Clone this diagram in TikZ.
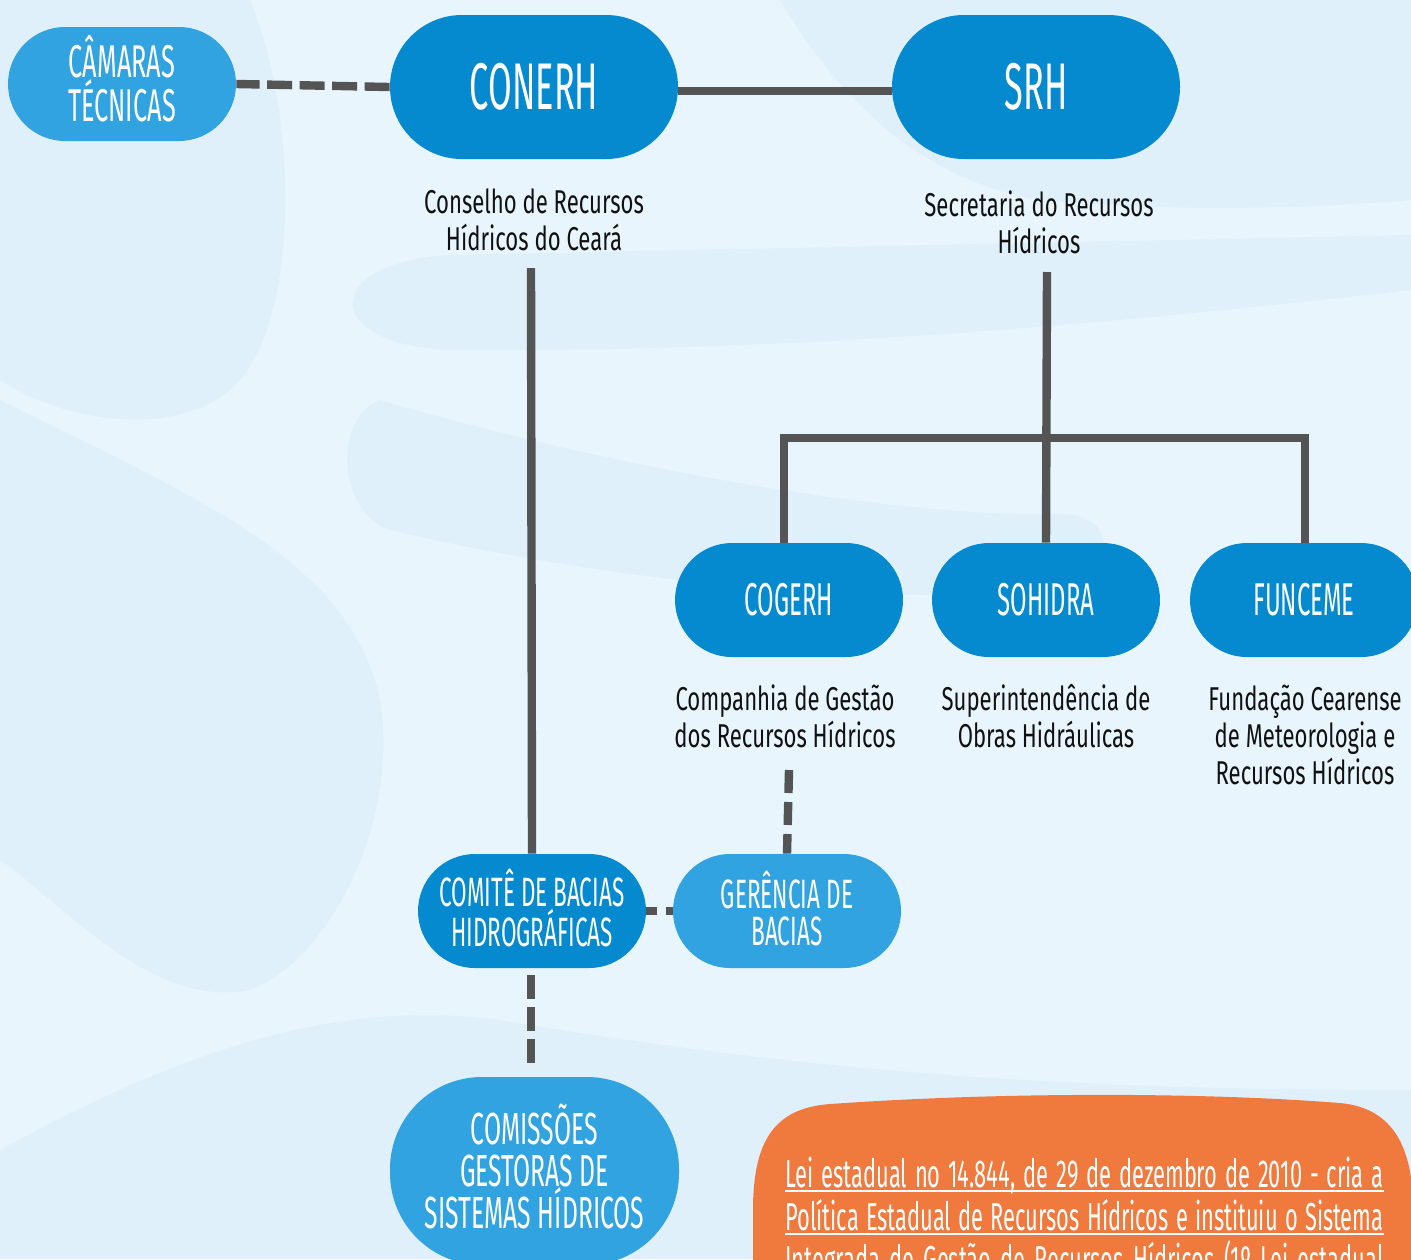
\documentclass[tikz,border=0pt]{standalone}
\usepackage{fontspec}
\setmainfont{Fira Sans}[FakeStretch=0.67]
\newfontfamily\capfont{Fira Sans}[FakeStretch=0.52]
\newfontfamily\capfontw{Fira Sans}[FakeStretch=0.55]
\newfontfamily\ofont{Fira Sans}[FakeStretch=0.56]
\usetikzlibrary{shapes.misc}
\definecolor{bgc}{HTML}{E8F5FD}
\definecolor{blobc}{HTML}{E0F0FB}
\definecolor{dblue}{HTML}{0589CF}
\definecolor{lblue}{HTML}{30A3E0}
\definecolor{lgray}{HTML}{545454}
\definecolor{orng}{HTML}{F07A3D}
\definecolor{txt}{HTML}{111111}
\tikzset{
  pill/.style={rounded rectangle, inner sep=0pt, text=white, align=center},
  smallpill/.style={pill, minimum width=114pt, minimum height=57pt},
  bigpill/.style={pill, minimum width=144pt, minimum height=72pt, fill=dblue,
    font=\capfont\fontsize{33}{34}\selectfont},
  intext/.style={text=white, align=center, inner sep=0pt},
  lbl/.style={text=txt, align=center, inner sep=0pt,
    font=\fontsize{16.5}{18.5}\selectfont},
  conn/.style={draw=lgray, line width=4.2pt},
  dashc/.style={draw=lgray, line width=4.2pt, dash pattern=on 12pt off 4pt},
  otext/.style={anchor=base west, text=white, inner sep=0pt,
    font=\ofont\fontsize{19.5}{21}\selectfont},
  uline/.style={draw=white, line width=1pt}
}
\begin{document}
\begin{tikzpicture}[x=0.5pt,y=-0.5pt]
\useasboundingbox (0,0) rectangle (1411,1259);
\clip (0,0) rectangle (1411,1259);
\fill[bgc] (0,0) rectangle (1411,1259);
% background blobs (soft)
\fill[blobc] (0,0) -- (250,0) .. controls (300,120) and (300,330) .. (230,390)
  .. controls (170,440) and (60,420) .. (0,380) -- cycle;
\fill[blobc] (1411,235) -- (450,255) .. controls (320,262) and (320,345) .. (450,350)
  .. controls (800,352) and (1100,325) .. (1411,290) -- cycle;
\fill[blobc] (0,400) .. controls (200,500) and (350,560) .. (380,700)
  .. controls (400,820) and (330,960) .. (250,990)
  .. controls (150,1010) and (60,900) .. (0,860) -- cycle;
\fill[blobc] (380,400) .. controls (620,470) and (900,518) .. (1060,514)
  .. controls (1125,514) and (1120,585) .. (1030,592)
  .. controls (800,605) and (560,570) .. (390,530)
  .. controls (340,515) and (330,420) .. (380,400) -- cycle;
\fill[blobc] (780,0) .. controls (840,100) and (920,180) .. (1040,200)
  .. controls (1200,215) and (1350,205) .. (1411,200) -- (1411,0) -- cycle;
\fill[blobc] (0,1150) .. controls (200,1040) and (350,1000) .. (500,1020)
  .. controls (800,1070) and (1050,1090) .. (1411,1090)
  -- (1411,1259) -- (0,1259) -- cycle;

% nodes
\node[smallpill, fill=lblue] (cam) at (122,84) {};
\node[intext, font=\capfontw\fontsize{23}{22}\selectfont] (camT) at (122,79) {CÂMARAS\\TÉCNICAS};
\node[bigpill] (conerh) at (534,87) {CONERH};
\node[bigpill] (srh) at (1036,87) {SRH};
\node[lbl] (conerhL) at (534,219.5) {Conselho de Recursos\\Hídricos do Ceará};
\node[lbl] (srhL) at (1039,222.5) {Secretaria do Recursos\\Hídricos};

\node[smallpill, fill=dblue, font=\capfont\fontsize{23}{24}\selectfont] (cog) at (789,600) {COGERH};
\node[smallpill, fill=dblue, font=\capfont\fontsize{23}{24}\selectfont] (soh) at (1046,600) {SOHIDRA};
\node[smallpill, fill=dblue, font=\capfont\fontsize{23}{24}\selectfont] (fun) at (1304,600) {FUNCEME};
\node[lbl] (cogL) at (785,716.5) {Companhia de Gestão\\dos Recursos Hídricos};
\node[lbl] (sohL) at (1046,716.5) {Superintendência de\\Obras Hidráulicas};
\node[lbl] (funL) at (1305,735) {Fundação Cearense\\de Meteorologia e\\Recursos Hídricos};

\node[smallpill, fill=dblue] (comite) at (532,911) {};
\node[intext, font=\capfontw\fontsize{20.5}{18.5}\selectfont] (comiteT) at (532,908) {COMITÊ DE BACIAS\\HIDROGRÁFICAS};
\node[smallpill, fill=lblue] (ger) at (787,911) {};
\node[intext, font=\capfontw\fontsize{20.5}{18.5}\selectfont] (gerT) at (787,908) {GERÊNCIA DE\\BACIAS};
\node[draw=none, fill=lblue, rounded corners=46pt, minimum width=144.5pt, minimum height=94pt,
  inner sep=0pt] (comis) at (534.5,1171) {};
\node[intext, font=\capfontw\fontsize{22.5}{21}\selectfont] (comisT) at (534.5,1166)
  {COMISSÕES\\GESTORAS DE\\SISTEMAS HÍDRICOS};

% free ends
\coordinate (c1) at (531,268);
\coordinate (s1) at (1047,272);
\coordinate (g1) at (789,770);
\coordinate (d1) at (531,975);
\coordinate (d2) at (531,1063);

% connectors
\draw[dashc, dash pattern=on 12.5pt off 3.75pt] (conerh.west) -- (cam.east);
\draw[conn] (conerh.east) ++(0,4) -- ([yshift=-2pt]srh.west);
\draw[conn] (c1) -- (comite.north);
\draw[conn] (s1) -- (soh.north);
\draw[conn] (cog.north -| 784,0) -- (784,438) -- (1305,438) -- (fun.north -| 1305,0);
\draw[dashc, dash pattern=on 11.5pt off 4.5pt] (g1) -- (ger.north);
\draw[dashc, dash pattern=on 5.5pt off 4.5pt] (comite.east) -- (ger.west);
\draw[dashc, dash pattern=on 12pt off 4pt] (d1) -- (d2);

% orange box
\fill[orng] (753,1300) -- (753,1210) .. controls (753,1140) and (775,1108) .. (830,1104)
  .. controls (1000,1092) and (1200,1092) .. (1340,1103)
  .. controls (1395,1108) and (1411,1150) .. (1413,1200) -- (1413,1300) -- cycle;
\node[otext] (o1) at (785,1187) {\makebox[299pt][s]{Lei estadual no 14.844, de 29 de dezembro de 2010 - cria a}};
\node[otext] (o2) at (785,1230) {\makebox[299pt][s]{Política Estadual de Recursos Hídricos e instituiu o Sistema}};
\node[otext] (o3) at (785,1273) {\makebox[299pt][s]{Integrada de Gestão de Recursos Hídricos (1º Lei estadual}};
\draw[uline] ([yshift=-2.2pt]o1.base west) -- ([yshift=-2.2pt]o1.base east);
\draw[uline] ([yshift=-2.2pt]o2.base west) -- ([yshift=-2.2pt]o2.base east);
\end{tikzpicture}
\end{document}
